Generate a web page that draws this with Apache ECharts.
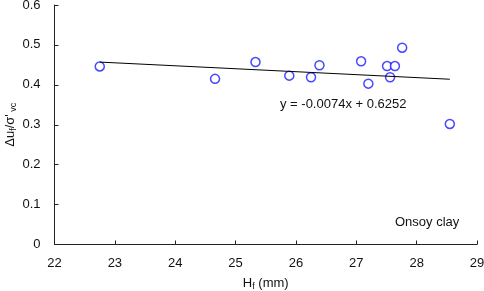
<!DOCTYPE html>
<html>
<head>
<meta charset="utf-8">
<script src="https://cdn.jsdelivr.net/npm/echarts@6/dist/echarts.min.js"></script>
<style>
  html, body { margin: 0; padding: 0; background: #fff; }
  #chart { width: 484px; height: 291px; }
</style>
</head>
<body>
<div id="chart"></div>
<script>
// 读图得到的数据
const hf = [22.75, 24.66, 25.33, 25.89, 26.25, 26.39, 27.08, 27.2, 27.51, 27.64, 27.56, 27.76, 28.55];
const ratio = [0.446, 0.415, 0.457, 0.423, 0.419, 0.449, 0.459, 0.403, 0.447, 0.447, 0.419, 0.493, 0.302];
// 趋势线两端（y = -0.0074x + 0.6252）
const trendX = [22.75, 28.55];
const trendY = [0.457, 0.414];
const equation = 'y = -0.0074x + 0.6252';
const soilLabel = 'Onsoy clay';

const font = 'Liberation Sans, Arial, sans-serif';

document.addEventListener('DOMContentLoaded', function () {
  const chart = echarts.init(document.getElementById('chart'));

  const axisCommon = {
    axisLine: { lineStyle: { color: '#222', width: 1 } },
    axisTick: { inside: true, length: 4, lineStyle: { color: '#222' } },
    splitLine: { show: false },
    axisLabel: { color: '#111', fontSize: 13, fontFamily: font }
  };

  const option = {
    animation: false,
    grid: { left: 54.5, right: 7, top: 5, bottom: 46.5, outerBoundsMode: 'none', containLabel: false },
    xAxis: Object.assign({}, axisCommon, {
      type: 'value', min: 22, max: 29, interval: 1,
      axisLabel: Object.assign({}, axisCommon.axisLabel, { margin: 12 }),
      name: '{n|H}{s|f}{n| (mm)}',
      nameLocation: 'middle', nameGap: 30,
      nameTextStyle: {
        rich: {
          n: { fontSize: 13, fontFamily: font, color: '#111' },
          s: { fontSize: 9, fontFamily: font, color: '#111', padding: [8, 0, 0, 0] }
        }
      }
    }),
    yAxis: Object.assign({}, axisCommon, {
      type: 'value', min: 0, max: 0.6, interval: 0.1,
      axisLabel: Object.assign({}, axisCommon.axisLabel, {
        margin: 14,
        formatter: v => (v === 0 ? '0' : v.toFixed(1))
      }),
      name: '{n|Δu}{s|f}{n|/σ\'}{s| vc}',
      nameLocation: 'middle', nameGap: 36, nameMoveOverlap: false,
      nameTextStyle: {
        rich: {
          n: { fontSize: 13, fontFamily: font, color: '#111' },
          s: { fontSize: 9, fontFamily: font, color: '#111', padding: [8, 0, 0, 0] }
        }
      }
    }),
    series: [
      {
        type: 'line',
        data: trendX.map((x, i) => [x, trendY[i]]),
        showSymbol: false,
        lineStyle: { color: '#000', width: 1 },
        silent: true
      },
      {
        type: 'scatter',
        data: hf.map((x, i) => [x, ratio[i]]),
        symbol: 'circle',
        symbolSize: 9,
        itemStyle: { color: '#fff', borderColor: '#1a1aff', borderWidth: 1.5 }
      }
    ],
    graphic: [
      {
        type: 'text', left: 280, top: 98,
        style: { text: equation, fontSize: 13, fontFamily: font, fill: '#111' }
      },
      {
        type: 'text', left: 395, top: 216,
        style: { text: soilLabel, fontSize: 13, fontFamily: font, fill: '#111' }
      }
    ]
  };

  chart.setOption(option);
});
</script>
</body>
</html>
